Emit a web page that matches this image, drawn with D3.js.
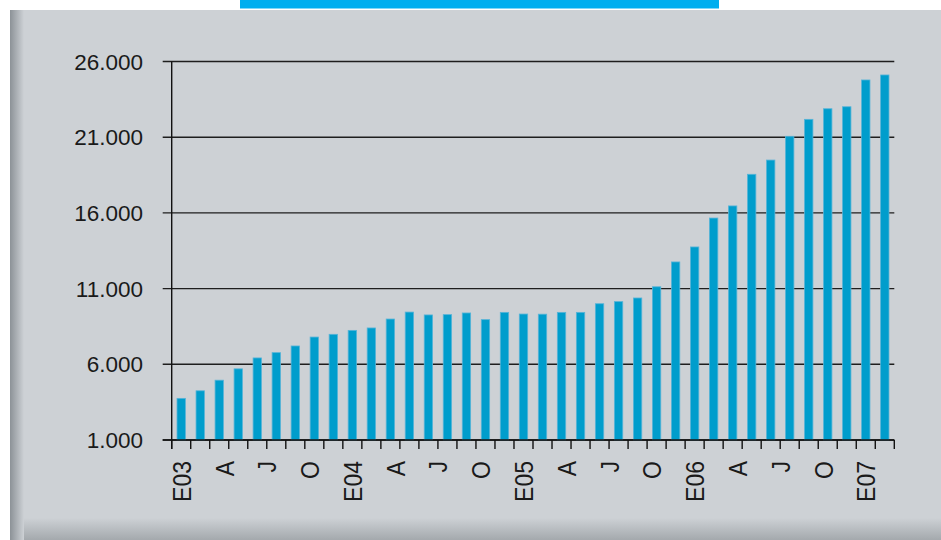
<!DOCTYPE html>
<html>
<head>
<meta charset="utf-8">
<script src="https://cdn.jsdelivr.net/npm/d3@7"></script>
<style>
  html, body { margin: 0; padding: 0; background: #fff; }
  svg { display: block; }
</style>
</head>
<body>
<svg width="941" height="540"></svg>
<script>
// valores (38 barras)
var values = [
  3750, 4250, 4950, 5700, 6420, 6770, 7210, 7800, 7980, 8240,
  8400, 8990, 9450, 9260, 9280, 9390, 8950, 9430, 9320, 9310,
  9430, 9430, 10000, 10140, 10380, 11120, 12760, 13750, 15660, 16460,
  18550, 19490, 21060, 22180, 22880, 23010, 24780, 25110
];
var tickLabels = ['E03', 'A', 'J', 'O', 'E04', 'A', 'J', 'O', 'E05', 'A', 'J', 'O', 'E06', 'A', 'J', 'O', 'E07'];
var yTicks = [1000, 6000, 11000, 16000, 21000, 26000];

const svg = d3.select('svg');
const W = +svg.attr('width'), H = +svg.attr('height');

const fmt = d3.formatLocale({decimal: ",", thousands: ".", grouping: [3], currency: ["", "€"]}).format(",");

// fondo
const defs = svg.append('defs');
const gl = defs.append('linearGradient').attr('id', 'gl').attr('x1', 0).attr('x2', 1).attr('y1', 0).attr('y2', 0);
gl.append('stop').attr('offset', 0).attr('stop-color', '#8c9297');
gl.append('stop').attr('offset', 1).attr('stop-color', '#cdd1d5');
const gb = defs.append('linearGradient').attr('id', 'gb').attr('x1', 0).attr('x2', 0).attr('y1', 0).attr('y2', 1);
gb.append('stop').attr('offset', 0).attr('stop-color', '#cdd1d5');
gb.append('stop').attr('offset', 1).attr('stop-color', '#a4a9ad');

svg.append('rect').attr('x', 0).attr('y', 0).attr('width', W).attr('height', H).attr('fill', '#fff');
svg.append('rect').attr('x', 10).attr('y', 10).attr('width', W - 10).attr('height', H - 10).attr('fill', '#cdd1d5');
svg.append('rect').attr('x', 10).attr('y', 518).attr('width', W - 10).attr('height', 22).attr('fill', 'url(#gb)');
svg.append('rect').attr('x', 10).attr('y', 10).attr('width', 14).attr('height', H - 10).attr('fill', 'url(#gl)');
svg.append('rect').attr('x', 240).attr('y', 0).attr('width', 479).attr('height', 8.5).attr('fill', '#00aeef');

// escalas
const x0 = 171.7, x1 = 894.3;
const x = d3.scaleBand().domain(d3.range(values.length)).range([x0, x1]).paddingInner(0.56).paddingOuter(0.28);
const y = d3.scaleLinear().domain([1000, 26000]).range([440, 61.5]);

// rejilla
svg.append('g')
  .selectAll('line')
  .data(yTicks)
  .join('line')
  .attr('x1', x0 - 9).attr('x2', x1)
  .attr('y1', d => y(d)).attr('y2', d => y(d))
  .attr('stroke', '#1e1e1e').attr('stroke-width', 1.4);

// barras
svg.append('g')
  .selectAll('rect')
  .data(values)
  .join('rect')
  .attr('x', (d, i) => x(i))
  .attr('width', x.bandwidth())
  .attr('y', d => y(d))
  .attr('height', d => y(1000) - y(d))
  .attr('fill', '#009dcc')
  .attr('stroke', '#56b4d8')
  .attr('stroke-width', 0.8);

// ejes
svg.append('line').attr('x1', x0).attr('x2', x0).attr('y1', y(26000)).attr('y2', 449)
  .attr('stroke', '#111').attr('stroke-width', 1.4);
svg.append('line').attr('x1', x0 - 9).attr('x2', x1).attr('y1', y(1000)).attr('y2', y(1000))
  .attr('stroke', '#111').attr('stroke-width', 1.4);

svg.append('g')
  .selectAll('line')
  .data(d3.range(values.length + 1))
  .join('line')
  .attr('x1', i => x0 + i * x.step()).attr('x2', i => x0 + i * x.step())
  .attr('y1', 440).attr('y2', 449)
  .attr('stroke', '#111').attr('stroke-width', 1.4);

svg.append('g')
  .attr('font-family', '"Liberation Sans", Arial, sans-serif')
  .attr('font-size', 22.5)
  .attr('fill', '#1a1a1a')
  .selectAll('text')
  .data(yTicks)
  .join('text')
  .attr('x', 143)
  .attr('y', d => y(d))
  .attr('dy', '0.36em')
  .attr('text-anchor', 'end')
  .text(d => fmt(d));

const xl = i => x(0) + x.bandwidth() / 2 + i * 2.25 * x.step();
svg.append('g')
  .attr('font-family', '"Liberation Sans", Arial, sans-serif')
  .attr('font-size', 23)
  .attr('fill', '#1a1a1a')
  .selectAll('text')
  .data(tickLabels)
  .join('text')
  .attr('transform', (d, i) => `translate(${xl(i)},461) rotate(-90) scale(1,1.15)`)
  .attr('dy', '0.36em')
  .attr('text-anchor', 'end')
  .text(d => d);
</script>
</body>
</html>
